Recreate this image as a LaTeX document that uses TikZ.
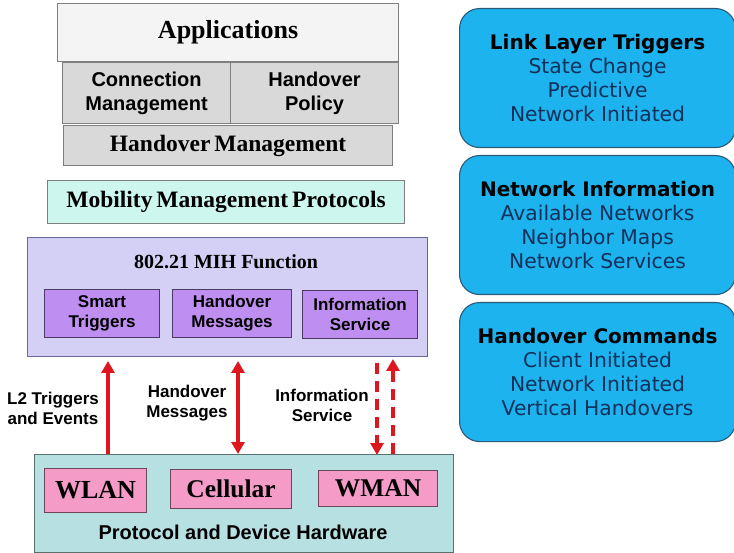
\documentclass[tikz,border=0pt]{standalone}
\usepackage{fontspec}
\setmainfont{Liberation Serif}
\setsansfont{Liberation Sans}
\newfontfamily\verdanalike{DejaVu Sans}
\usetikzlibrary{arrows.meta}

\definecolor{appfill}{HTML}{F4F4F4}
\definecolor{greyfill}{HTML}{D9D9D9}
\definecolor{mintfill}{HTML}{CCF6EE}
\definecolor{mihfill}{HTML}{D3CFF5}
\definecolor{violetfill}{HTML}{BE8EF0}
\definecolor{tealfill}{HTML}{B6E0E2}
\definecolor{pinkfill}{HTML}{F59BC8}
\definecolor{linkred}{HTML}{E0161E}
\definecolor{skyfill}{HTML}{1CB3EE}
\definecolor{skyedge}{HTML}{2B5A78}
\definecolor{navytext}{HTML}{12305A}
\definecolor{edgegrey}{HTML}{7F7F7F}

\tikzset{
  layer/.style={draw=edgegrey, line width=1.1pt, inner sep=0pt, anchor=north west, align=center},
  serifhead/.style={font=\bfseries\fontsize{#1}{#1}\selectfont},
  sanstwo/.style={font=\sffamily\bfseries\fontsize{#1}{24}\selectfont},
  appbox/.style={layer, fill=appfill},
  greybox/.style={layer, fill=greyfill},
  mintbox/.style={layer, fill=mintfill},
  mihbox/.style={layer, fill=mihfill, draw=edgegrey!80!blue},
  subbox/.style={layer, fill=violetfill, draw=violetfill!40!black,
    font=\sffamily\bfseries\fontsize{17}{20}\selectfont},
  hwbox/.style={layer, fill=tealfill, draw=tealfill!50!black},
  netbox/.style={layer, fill=pinkfill, draw=pinkfill!45!black},
  infobox/.style={draw=skyedge, line width=1.1pt, fill=skyfill, rounded corners=20pt,
    inner sep=0pt, anchor=north west, minimum width=276pt, minimum height=139pt,
    align=center, text=navytext, font=\verdanalike\fontsize{20.3}{24}\selectfont},
  flowlabel/.style={font=\sffamily\bfseries\fontsize{17}{20}\selectfont, align=center},
  redarrow/.style={draw=linkred, line width=4pt, -{Triangle[length=12pt,width=13pt]}},
  dashredarrow/.style={redarrow, dash pattern=on 11pt off 7pt},
}

\begin{document}
\begin{tikzpicture}[x=1pt, y=-1pt]
  \useasboundingbox (0,0) rectangle (734,553);

  % upper protocol stack
  \node[appbox, serifhead=26, minimum width=341pt, minimum height=58pt] (app) at (57,3) {Applications};
  \node[greybox, sanstwo=20, minimum width=168pt, minimum height=61pt] (conn) at (62,62) {Connection\\Management};
  \node[greybox, sanstwo=20, minimum width=168pt, minimum height=61pt] (policy) at (230,62) {Handover\\Policy};
  \node[greybox, serifhead=23.5, minimum width=329pt, minimum height=40pt] (hom) at (63,125) {Handover\,Management};
  \node[mintbox, serifhead=23.5, minimum width=357pt, minimum height=43pt] (mmp) at (47,180) {Mobility\,Management\,Protocols};

  % MIH function block
  \node[mihbox, minimum width=400pt, minimum height=119pt] (mih) at (27,237) {};
  \node[serifhead=20] (mihtitle) at (226,262) {802.21 MIH Function};
  \node[subbox, minimum width=115pt, minimum height=48pt] (smart) at (44,289) {Smart\\Triggers};
  \node[subbox, minimum width=119pt, minimum height=48pt] (homsg) at (172,289) {Handover\\Messages};
  \node[subbox, minimum width=115pt, minimum height=48pt] (infosrv) at (302,290) {Information\\Service};

  % hardware block
  \node[hwbox, minimum width=419pt, minimum height=98pt] (hw) at (34,454) {};
  \node[netbox, serifhead=26, minimum width=102pt, minimum height=44pt] (wlan) at (44,468) {WLAN};
  \node[netbox, serifhead=25.5, minimum width=121pt, minimum height=39pt] (cell) at (170,469) {Cellular};
  \node[netbox, serifhead=25.5, minimum width=119pt, minimum height=36pt] (wman) at (318,470) {WMAN};
  \node[font=\sffamily\bfseries\fontsize{20}{20}\selectfont] (hwtitle) at (243,532) {Protocol and Device Hardware};

  % arrow anchors on the block edges
  \coordinate (trigtop) at (108,361);
  \coordinate (trigbot) at (108,454);
  \coordinate (msgtop) at (238,361);
  \coordinate (msgbot) at (238,454);
  \coordinate (downtop) at (377,363);
  \coordinate (downbot) at (377,455);
  \coordinate (uptop) at (393,359);
  \coordinate (upbot) at (393,454);

  \draw[redarrow] (trigbot) -- (trigtop);
  \draw[redarrow, {Triangle[length=12pt,width=13pt]}-{Triangle[length=12pt,width=13pt]}] (msgtop) -- (msgbot);
  \draw[dashredarrow] (downtop) -- (downbot);
  \draw[dashredarrow] (upbot) -- (uptop);

  \node[flowlabel] (l2lbl) at (53,408) {L2 Triggers\\and Events};
  \node[flowlabel] (msglbl) at (187,403) {Handover\\Messages};
  \node[flowlabel] (infolbl) at (322,405) {Information\\Service};

  % service summaries
  \node[infobox] (trig) at (459,8) {\textbf{\color{black}\fontsize{20}{24}\selectfont Link Layer Triggers}\\State Change\\Predictive\\Network Initiated};
  \node[infobox] (netinfo) at (459,155) {\textbf{\color{black}\fontsize{20}{24}\selectfont Network Information}\\Available Networks\\Neighbor Maps\\Network Services};
  \node[infobox] (hocmd) at (459,302) {\textbf{\color{black}\fontsize{20}{24}\selectfont Handover Commands}\\Client Initiated\\Network Initiated\\Vertical Handovers};
\end{tikzpicture}
\end{document}
